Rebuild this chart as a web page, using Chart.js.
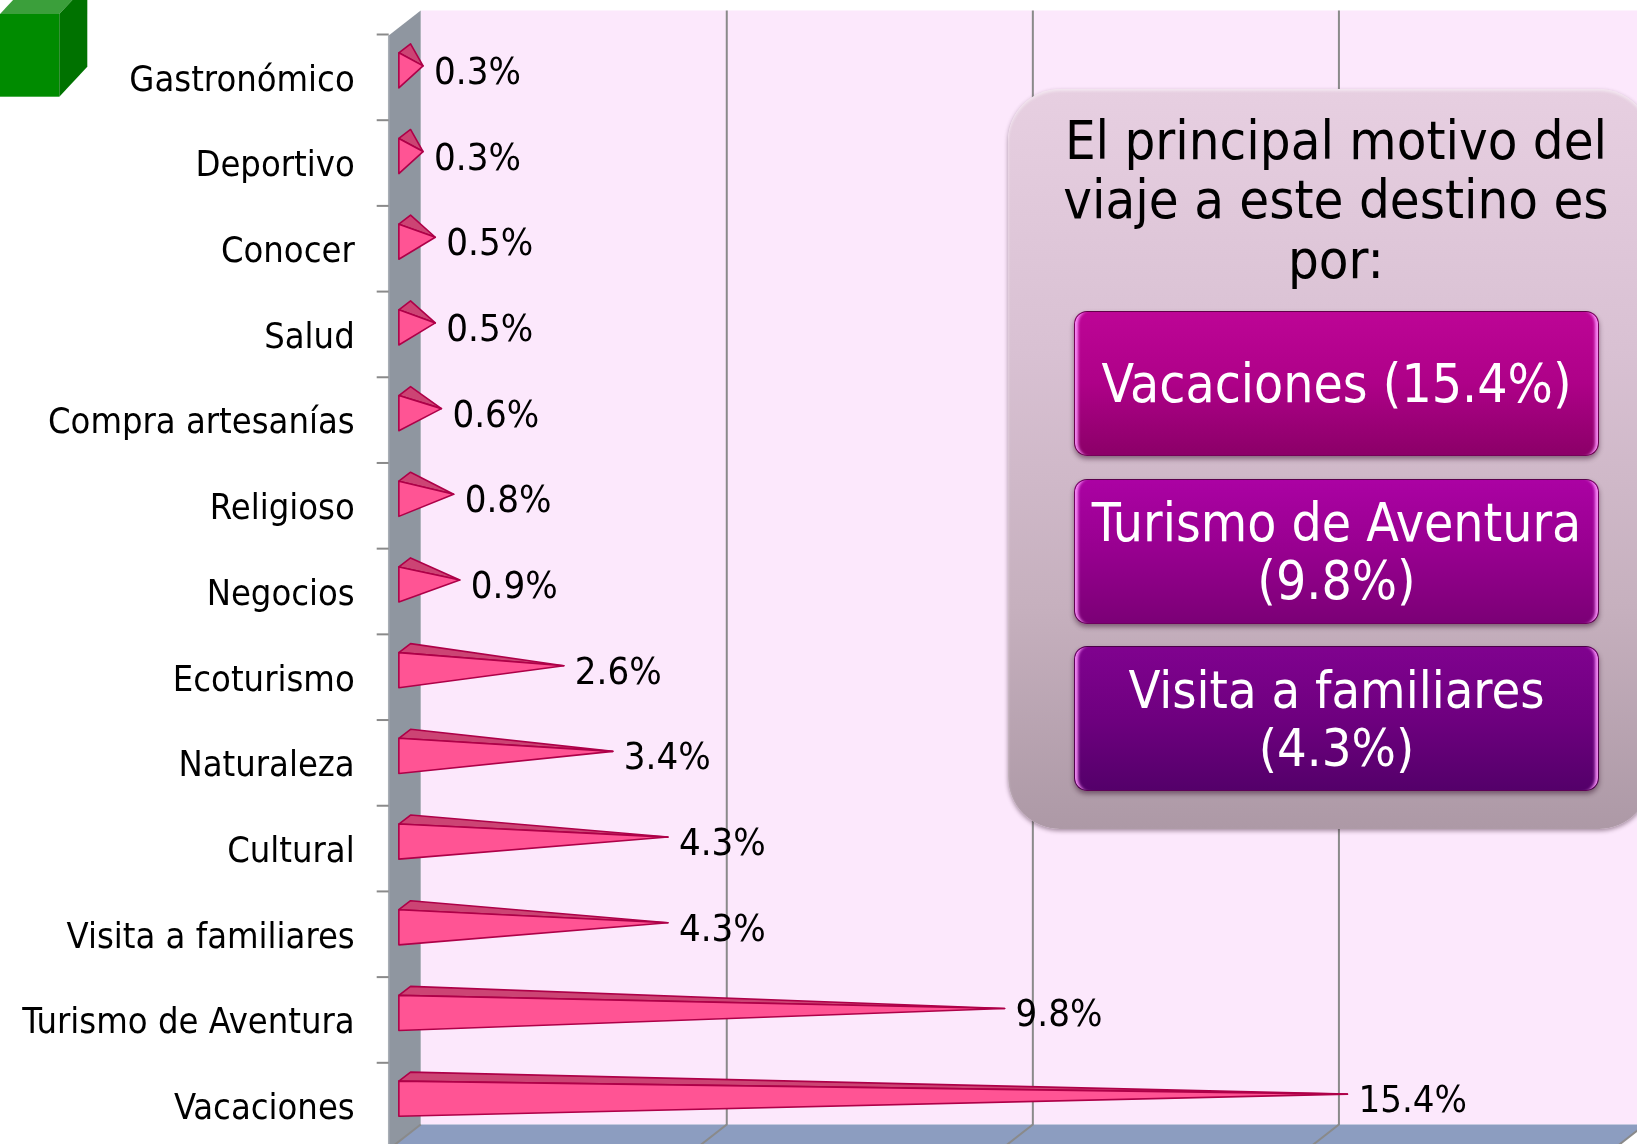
<!DOCTYPE html>
<html><head><meta charset="utf-8">
<script src="https://cdn.jsdelivr.net/npm/chart.js@4.4.0/dist/chart.umd.min.js"></script>
<style>
html,body{margin:0;padding:0;background:#fff;overflow:hidden;width:1637px;height:1144px;}
#wrap{position:relative;width:1637px;height:1144px;overflow:hidden;}
canvas{position:absolute;left:0;top:0;}
.f{font-family:'DejaVu Sans Condensed','DejaVu Sans',sans-serif;white-space:nowrap;}
#panel{position:absolute;left:1008px;top:89px;width:643px;height:740px;border-radius:52px;
  background:linear-gradient(180deg,#E7CFE1 0%,#D9C1D3 35%,#C6B0BE 70%,#AD99A6 100%);
  box-shadow:0 2px 4px rgba(60,30,50,0.45), inset 0 2px 3px rgba(255,255,255,0.5);}
#title{position:absolute;left:1016px;width:640px;top:111px;text-align:center;font-size:54px;line-height:59.3px;color:#000;}
.btn{position:absolute;left:1074px;width:525px;height:145px;border-radius:13px;display:flex;align-items:center;justify-content:center;text-align:center;color:#fff;font-size:53px;line-height:58px;
  box-shadow:0 3px 5px rgba(40,0,30,0.45), inset 6px 0 3px -3px rgba(255,150,255,0.9), inset -6px 0 3px -3px rgba(255,150,255,0.9);border:1px solid rgba(70,0,50,0.6);box-sizing:border-box;}
#b1{top:311px;background:linear-gradient(180deg,#BD0596 0%,#AE0188 50%,#8B0068 100%);}
#b2{top:479px;background:linear-gradient(180deg,#AB02A3 0%,#97008F 50%,#7B0076 100%);}
#b3{top:646px;background:linear-gradient(180deg,#80028F 0%,#6E007F 50%,#54006A 100%);font-size:52px;}
</style></head>
<body><div id="wrap">
<canvas id="c" width="1637" height="1144"></canvas>
<div id="panel"></div>
<div id="title" class="f">El principal motivo del<br>viaje a este destino es<br>por:</div>
<div id="b1" class="btn f">Vacaciones (15.4%)</div>
<div id="b2" class="btn f">Turismo de Aventura<br>(9.8%)</div>
<div id="b3" class="btn f">Visita a familiares<br>(4.3%)</div>
</div>
<script>
const categories = ['Gastronómico','Deportivo','Conocer','Salud','Compra artesanías','Religioso','Negocios','Ecoturismo','Naturaleza','Cultural','Visita a familiares','Turismo de Aventura','Vacaciones'];
const values = [0.3,0.3,0.5,0.5,0.6,0.8,0.9,2.6,3.4,4.3,4.3,9.8,15.4];
const xTickValues = [0,5,10,15,20];

const FONT = "'DejaVu Sans Condensed','DejaVu Sans',sans-serif";
const DX = 16, DY = 12.5; // half depth of the 3D box (middle plane -> back plane)

const backgroundPlugin = {
  id:'bg3d',
  beforeDraw(chart){
    const {ctx, chartArea:ca, scales} = chart;
    const xs = scales.x;
    const x0 = xs.getPixelForValue(xTickValues[0]);
    const xMax = xs.getPixelForValue(xTickValues[xTickValues.length-1]);
    const backL = x0 + DX, backR = xMax + DX, backT = ca.top - DY, backB = ca.bottom - DY;
    const frontL = x0 - DX, frontT = ca.top + DY, frontB = ca.bottom + DY;
    ctx.save();
    ctx.fillStyle = '#fff'; ctx.fillRect(0,0,chart.width,chart.height);
    // green cube
    ctx.fillStyle = '#3B9F3B';
    ctx.beginPath(); ctx.moveTo(0,14); ctx.lineTo(59.3,14); ctx.lineTo(87.3,-16); ctx.lineTo(28,-16); ctx.closePath(); ctx.fill();
    ctx.fillStyle = '#008B00'; ctx.fillRect(0,14,59.3,82.7);
    ctx.fillStyle = '#007200';
    ctx.beginPath(); ctx.moveTo(59.3,14); ctx.lineTo(87.3,-16); ctx.lineTo(87.3,66.7); ctx.lineTo(59.3,96.7); ctx.closePath(); ctx.fill();
    // back wall
    ctx.fillStyle = '#FCE8FC';
    ctx.fillRect(backL, backT, backR-backL, backB-backT);
    // left side wall
    ctx.fillStyle = '#8F96A0';
    ctx.beginPath(); ctx.moveTo(frontL,frontT); ctx.lineTo(backL,backT); ctx.lineTo(backL,backB); ctx.lineTo(frontL,frontB); ctx.closePath(); ctx.fill();
    ctx.strokeStyle = '#A8AEB5'; ctx.lineWidth = 1.5;
    ctx.beginPath(); ctx.moveTo(frontL,frontT); ctx.lineTo(frontL,frontB); ctx.stroke();
    // floor
    ctx.fillStyle = '#8C9DC0';
    ctx.beginPath(); ctx.moveTo(backL,backB); ctx.lineTo(backR,backB); ctx.lineTo(backR-2*DX,backB+2*DY); ctx.lineTo(frontL,frontB); ctx.closePath(); ctx.fill();
    // gridlines
    ctx.strokeStyle = '#8A8A8A'; ctx.lineWidth = 2;
    xTickValues.forEach((v,i)=>{
      const px = xs.getPixelForValue(v) + DX;
      ctx.beginPath();
      if (i>0) { ctx.moveTo(px, backT); ctx.lineTo(px, backB); } else { ctx.moveTo(px, backB); }
      ctx.lineTo(px-2*DX, backB+2*DY);
      ctx.stroke();
    });
    // category tick marks on the front edge
    const ys = scales.y;
    ctx.strokeStyle = '#8A8A8A'; ctx.lineWidth = 2;
    for (let i=0;i<=categories.length;i++){
      const yy = ys.getPixelForValue(i-0.5) + DY - 1;
      ctx.beginPath(); ctx.moveTo(frontL-12, yy); ctx.lineTo(frontL, yy); ctx.stroke();
    }
    ctx.restore();
  }
};

const pyramidPlugin = {
  id:'pyramids',
  afterDatasetsDraw(chart){
    const {ctx} = chart;
    const meta = chart.getDatasetMeta(0);
    const ddx = 5.85, ddy = 4.5;
    ctx.save();
    ctx.lineJoin = 'round';
    meta.data.forEach((el,i)=>{
      const p = el.getProps(['x','y','base','height'], true);
      const tipX = p.x, cy = p.y, base = p.base, h = p.height;
      const fx = base - ddx, fTop = cy + ddy - h/2, fBot = cy + ddy + h/2;
      const bx = base + ddx, bTop = fTop - 2*ddy;
      ctx.strokeStyle = '#AE0048'; ctx.lineWidth = 1.6;
      // top facet
      ctx.fillStyle = '#CC4474';
      ctx.beginPath(); ctx.moveTo(fx,fTop); ctx.lineTo(bx,bTop); ctx.lineTo(tipX,cy); ctx.closePath(); ctx.fill(); ctx.stroke();
      // front face
      ctx.fillStyle = '#FF5494';
      ctx.beginPath(); ctx.moveTo(fx,fTop); ctx.lineTo(fx,fBot); ctx.lineTo(tipX,cy); ctx.closePath(); ctx.fill(); ctx.stroke();
      // value label
      ctx.fillStyle = '#000';
      ctx.font = '38px ' + FONT;
      ctx.textAlign = 'left'; ctx.textBaseline = 'alphabetic';
      ctx.fillText(values[i].toFixed(1) + '%', tipX + 11, cy + 18);
    });
    ctx.restore();
  }
};

Chart.defaults.font.family = FONT;
new Chart(document.getElementById('c'), {
  type:'bar',
  data:{ labels:categories, datasets:[{ data:values, backgroundColor:'rgba(0,0,0,0)', borderWidth:0, barPercentage:0.41, categoryPercentage:1 }]},
  options:{
    indexAxis:'y', responsive:false, animation:false, devicePixelRatio:1,
    layout:{ padding:{ left:0, top:23, right:8, bottom:7 } },
    plugins:{ legend:{display:false}, tooltip:{enabled:false} },
    scales:{
      x:{ min:0, max:20, display:false, ticks:{stepSize:5} },
      y:{ grid:{display:false, drawTicks:false}, border:{display:false},
          ticks:{ font:{family:FONT, size:36}, color:'#000', padding:50, labelOffset:15.5, autoSkip:false },
          afterFit(s){ s.width = 404.7; s.paddingTop = 0; s.paddingBottom = 0; } }
    }
  },
  plugins:[backgroundPlugin, pyramidPlugin]
});
</script>
</body></html>
